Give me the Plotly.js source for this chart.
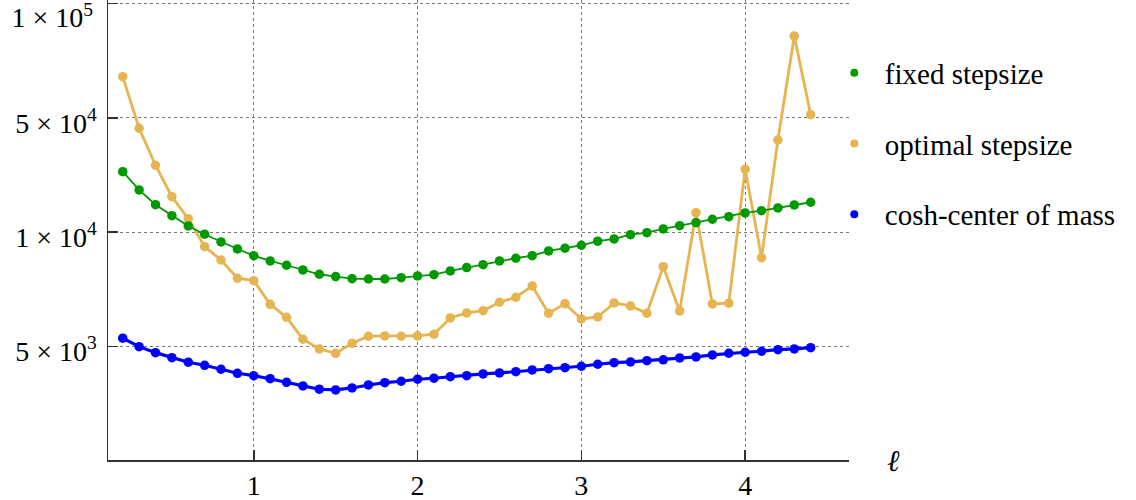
<!DOCTYPE html>
<html>
<head>
<meta charset="utf-8">
<script src="https://cdn.plot.ly/plotly-3.0.1.min.js"></script>
<style>html,body{margin:0;padding:0;background:#fff;}#chart{width:1136px;height:500px;}</style>
</head>
<body>
<div id="chart"></div>
<script>
// ---- data ----
const ell = [0.2,0.3,0.4,0.5,0.6,0.7,0.8,0.9,1.0,1.1,1.2,1.3,1.4,1.5,1.6,1.7,1.8,1.9,2.0,2.1,2.2,2.3,2.4,2.5,2.6,2.7,2.8,2.9,3.0,3.1,3.2,3.3,3.4,3.5,3.6,3.7,3.8,3.9,4.0,4.1,4.2,4.3,4.4];
const fixedStepsize = [23430,18100,14700,12600,10900,9870,9420,9025,8665,8390,8175,7945,7740,7630,7535,7520,7520,7580,7660,7720,7900,8060,8205,8390,8530,8665,8915,9065,9230,9460,9590,9845,9965,10450,10940,11420,11980,12420,13090,13520,14040,14650,15220];
const optimalStepsize = [64210,43190,25640,16470,12080,9150,8440,7555,7446,6450,5960,5217,4920,4790,5090,5313,5322,5313,5322,5378,5937,6120,6206,6531,6732,7210,6109,6475,5901,5973,6503,6386,6109,8106,6195,13140,6464,6491,24230,8560,36620,82200,50980];
const coshCenterOfMass = [5250,4988,4810,4666,4538,4455,4349,4244,4183,4107,4018,3930,3852,3835,3882,3953,4009,4043,4093,4118,4158,4183,4226,4252,4286,4330,4365,4391,4429,4483,4527,4546,4580,4605,4657,4686,4743,4792,4821,4851,4898,4920,4957];
const yTickValues = [5000, 10000, 50000, 100000];
const yTickLabels = ['5 × 10<sup>3</sup>', '1 × 10<sup>4</sup>', '5 × 10<sup>4</sup>', '1 × 10<sup>5</sup>'];
const xTickValues = [1, 2, 3, 4];
const seriesNames = ['fixed stepsize', 'optimal stepsize', 'cosh-center of mass'];

// ---- axis scale: tick values are equally spaced, log-interpolated between ticks ----
function toAxis(v) {
  const t = yTickValues;
  let i = 0;
  while (i < t.length - 2 && v > t[i + 1]) i++;
  return i + Math.log(v / t[i]) / Math.log(t[i + 1] / t[i]);
}
const yPos = arr => arr.map(toAxis);

const colors = ['#009900', '#E6B450', '#0000FF'];
const FONT = '"Liberation Serif", "DejaVu Serif", serif';
const Y_RANGE = [-0.996, 3.032];
const lastIdx = yTickValues.length - 1;

const traces = [
  {x: ell, y: yPos(optimalStepsize), mode: 'lines+markers', showlegend: false,
   line: {color: colors[1], width: 2.8}, marker: {color: colors[1], size: 9.5}},
  {x: ell, y: yPos(fixedStepsize), mode: 'lines+markers', showlegend: false,
   line: {color: colors[0], width: 1.8}, marker: {color: colors[0], size: 9.5}},
  {x: ell, y: yPos(coshCenterOfMass), mode: 'lines+markers', showlegend: false,
   line: {color: colors[2], width: 3.2}, marker: {color: colors[2], size: 9.5}},
  // anchor trace for the overlay axis carrying the top tick label
  {x: [null], y: [null], yaxis: 'y2', showlegend: false, hoverinfo: 'skip', mode: 'markers'}
];
seriesNames.forEach((n, i) => {
  traces.push({x: [null], y: [null], mode: 'markers', name: n, legendgroup: 'g' + i,
    marker: {color: colors[i], size: 8}});
});

const axisCommon = {
  ticks: 'inside', ticklen: 10, tickwidth: 1.5, tickcolor: '#333',
  showline: true, linecolor: '#333', linewidth: 1.5,
  showgrid: true, gridcolor: '#777', griddash: 'dot', gridwidth: 1, zeroline: false
};

const layout = {
  width: 1136, height: 500,
  margin: {l: 108, r: 287, t: 0, b: 40},
  paper_bgcolor: '#fff', plot_bgcolor: '#fff',
  font: {family: FONT, size: 24, color: '#000'},
  xaxis: Object.assign({}, axisCommon, {
    range: [0.11, 4.634], tickvals: xTickValues, ticktext: xTickValues.map(String),
    tickfont: {family: FONT, size: 28, color: '#000'}
  }),
  yaxis: Object.assign({}, axisCommon, {
    range: Y_RANGE, tickvals: yTickValues.map(toAxis),
    ticktext: yTickLabels.map((t, i) => i === lastIdx ? '' : t),
    tickfont: {family: FONT, size: 28, color: '#000'},
    ticklabelstandoff: 4, ticklabelshift: 5
  }),
  yaxis2: {
    overlaying: 'y', side: 'left', range: Y_RANGE,
    tickvals: [toAxis(yTickValues[lastIdx])], ticktext: [yTickLabels[lastIdx]],
    ticks: '', showgrid: false, showline: false, zeroline: false,
    tickfont: {family: FONT, size: 28, color: '#000'},
    ticklabelstandoff: 14, ticklabelshift: 14, ticklabeloverflow: 'allow'
  },
  legend: {
    x: 0.966, xanchor: 'left', y: 0.897, yanchor: 'top',
    font: {family: FONT, size: 29, color: '#000'},
    tracegroupgap: 30, bgcolor: 'rgba(0,0,0,0)', itemwidth: 51
  },
  annotations: [{
    xref: 'paper', yref: 'paper', x: 1, y: 0, xanchor: 'left', yanchor: 'middle',
    xshift: 36, text: 'ℓ', showarrow: false,
    font: {family: FONT, size: 30, color: '#000', style: 'italic'}
  }]
};

Plotly.newPlot('chart', traces, layout, {displayModeBar: false, staticPlot: true});
</script>
</body>
</html>
